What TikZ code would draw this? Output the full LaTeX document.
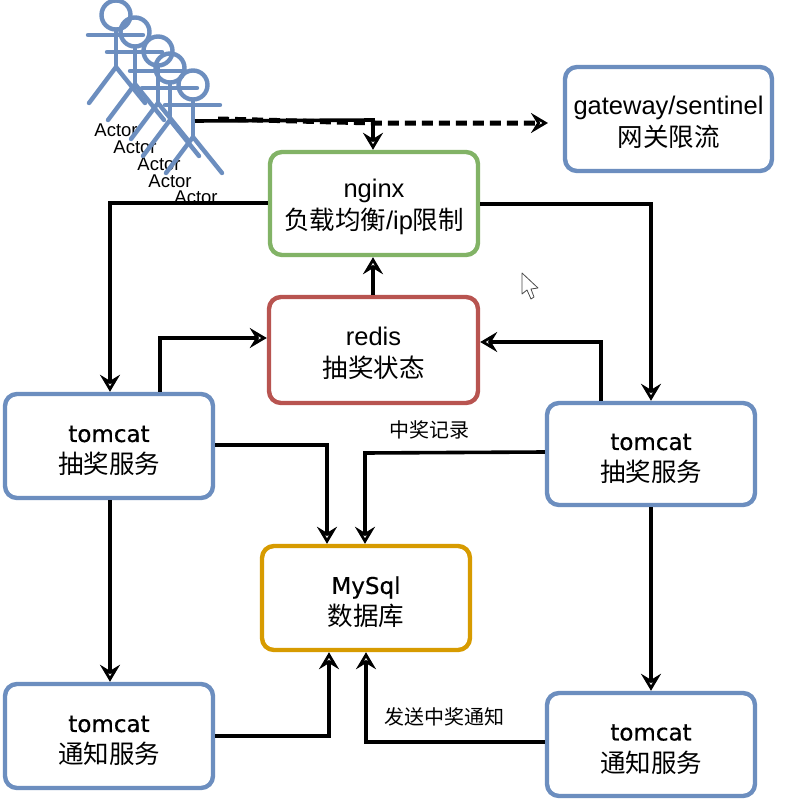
\documentclass[tikz,border=0pt]{standalone}
\usepackage{fontspec}
\setmainfont{Liberation Sans}
\newfontfamily\cjkf{Noto Sans CJK SC}
\newfontfamily\handf{DejaVu Sans}[FakeBold=0.6]
\usetikzlibrary{arrows.meta}
\definecolor{sblue}{HTML}{6C8EBF}
\definecolor{sgreen}{HTML}{82B366}
\definecolor{sred}{HTML}{B85450}
\definecolor{syellow}{HTML}{D79B00}
\newcommand{\topfix}{\rule{0pt}{26pt}}
\newcommand{\hw}[1]{{\handf\fontsize{23}{32}\selectfont #1}}
\tikzset{
  sbox/.style={draw=#1,line width=4.4pt,rounded corners=12pt,fill=white,align=center,inner sep=0pt,
    font=\fontsize{25.5}{32}\selectfont},
  wire/.style={line width=3.6pt,black,line join=miter},
  tip/.style={-{Stealth[open,length=17pt,width=20pt,inset=6pt,line width=3pt]}},
  limb/.style={draw=sblue,line width=4.4pt,line cap=round},
  lbl/.style={font=\fontsize{20}{24}\selectfont,inner sep=0pt},
  actorlbl/.style={font=\fontsize{18.5}{20}\selectfont,inner sep=0pt,text=black},
}
\newcommand{\actorfig}[2]{%
  \draw[limb] (#1,#2) circle[radius=14.5];
  \draw[limb] (#1-28,#2+20) -- (#1+27,#2+20);
  \draw[limb] (#1,#2+15) -- (#1,#2+52);
  \draw[limb] (#1-27,#2+88) -- (#1,#2+52) -- (#1+29,#2+88);
}
\begin{document}
\begin{tikzpicture}[x=1pt,y=-1pt]
\useasboundingbox (0,0) rectangle (812,800);
\fill[white] (0,0) rectangle (812,800);
% actors
\node[actorlbl] (al1) at (116,130) {Actor};
\node[actorlbl] (al2) at (135,147) {Actor};
\node[actorlbl] (al3) at (159,164) {Actor};
\node[actorlbl] (al4) at (170,181) {Actor};
\actorfig{116}{15}
\actorfig{135}{32}
\actorfig{158}{51}
\actorfig{170}{68}
\actorfig{193}{85}
% boxes
\node[sbox=sblue,minimum width=207pt,minimum height=104pt] (gw) at (668.5,119) {\topfix gateway/sentinel\\{\cjkf 网关限流}};
\node[sbox=sgreen,minimum width=208pt,minimum height=103pt] (ng) at (374,203.5) {\topfix nginx\\{\cjkf 负载均衡}/ip{\cjkf 限制}};
\node[sbox=sred,minimum width=209pt,minimum height=106pt] (rd) at (373.5,350) {\topfix redis\\{\cjkf 抽奖状态}};
\node[sbox=sblue,minimum width=208pt,minimum height=104pt] (tl1) at (109,446) {\topfix\hw{tomcat}\\{\cjkf 抽奖服务}};
\node[sbox=sblue,minimum width=208pt,minimum height=102pt] (tr1) at (651,454) {\topfix\hw{tomcat}\\{\cjkf 抽奖服务}};
\node[sbox=syellow,minimum width=208pt,minimum height=104pt] (db) at (366,598) {\topfix\hw{MySql}\\{\cjkf 数据库}};
\node[sbox=sblue,minimum width=208pt,minimum height=104pt] (tl2) at (109,736) {\topfix\hw{tomcat}\\{\cjkf 通知服务}};
\node[sbox=sblue,minimum width=208pt,minimum height=103pt] (tr2) at (651,744.5) {\topfix\hw{tomcat}\\{\cjkf 通知服务}};
% free ends
\coordinate (actorout) at (195,121);
\coordinate (dashout) at (218,119);
\coordinate (dashend) at (548,123);
% connectors
\draw[wire,tip] (actorout) -- (373,120) -- (ng.north -| 373,0);
\draw[wire,dash pattern=on 11pt off 6pt,line width=5pt,tip] (dashout) -- (375,123) -- (dashend);
\draw[wire,tip] (ng.west |- 0,203) -- (110,203) -- (tl1.north -| 110,0);
\draw[wire,tip] (ng.east |- 0,204) -- (651,204) -- (tr1.north);
\draw[wire,tip] (rd.north -| 373,0) -- (ng.south -| 373,0);
\draw[wire,tip] (tl1.north -| 160,0) -- (160,338) -- (rd.west |- 0,338);
\draw[wire,tip] (tr1.north -| 601,0) -- (601,342) -- (rd.east |- 0,342);
\draw[wire,tip] (tl1.east |- 0,445) -- (327,445) -- (db.north -| 327,0);
\draw[wire,tip] (tr1.west |- 0,452) -- (365,453) -- (db.north -| 365,0);
\draw[wire,tip] (tl1.south -| 110,0) -- (tl2.north -| 110,0);
\draw[wire,tip] (tr1.south) -- (tr2.north);
\draw[wire,tip] (tl2.east) -- (329,736) -- (db.south -| 329,0);
\draw[wire,tip] (tr2.west |- 0,742) -- (366,742) -- (db.south -| 366,0);
% labels
\node[actorlbl] (al5) at (196,197) {Actor};
\node[lbl] (lb1) at (429,430) {\cjkf 中奖记录};
\node[lbl] (lb2) at (444,717) {\cjkf 发送中奖通知};
% cursor
\draw[black!70,fill=white,line width=0.8pt,line join=round] (522,273) -- (522,294) -- (527,290) -- (531,299) -- (534,297) -- (531,289) -- (538,288) -- cycle;
\end{tikzpicture}
\end{document}
